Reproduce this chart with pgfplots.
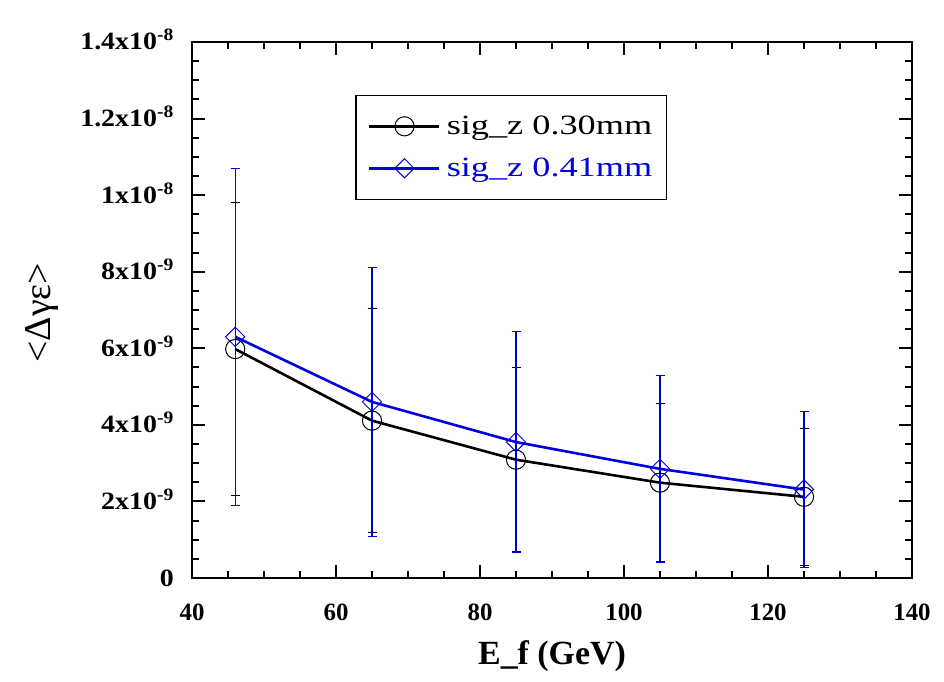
\documentclass[border=0pt]{standalone}
\usepackage{fontspec}
\setmainfont{Liberation Serif}
\newfontfamily\legfont{Liberation Serif}[FakeStretch=1.3]
\newfontfamily\ytickfont{Liberation Serif}[FakeStretch=1.12]
\usepackage{pgfplots}
\pgfplotsset{compat=1.18}
\definecolor{myblue}{RGB}{0,0,225}
\begin{document}
\begin{tikzpicture}
\useasboundingbox (0,0) rectangle (944bp,682bp);
\begin{axis}[
  at={(192bp,104bp)}, anchor=south west,
  scale only axis, width=720bp, height=536bp,
  xmin=40, xmax=140, ymin=0, ymax=1.4e-8,
  xtick={40,60,80,100,120,140},
  xticklabels={40,60,80,100,120,140},
  ytick={0,2e-9,4e-9,6e-9,8e-9,1e-8,1.2e-8,1.4e-8},
  yticklabels={0,2x10\textsuperscript{-9},4x10\textsuperscript{-9},6x10\textsuperscript{-9},8x10\textsuperscript{-9},1x10\textsuperscript{-8},1.2x10\textsuperscript{-8},1.4x10\textsuperscript{-8}},
  scaled y ticks=false,
  minor x tick num=3, minor y tick num=3,
  tick align=inside, tick pos=both,
  axis line style={line width=2.5bp},
  major tick length=13bp, minor tick length=7bp,
  tick style={line width=2bp, black},
  xticklabel style={font=\bfseries\fontsize{25}{28}\selectfont, inner sep=0pt, anchor=north, yshift=-26bp},
  yticklabel style={font=\ytickfont\bfseries\fontsize{25}{28}\selectfont, inner sep=0pt, anchor=base east, xshift=-18bp, yshift=-8bp},
  xlabel={E\_f (GeV)},
  xlabel style={font=\bfseries\fontsize{34}{38}\selectfont, at={(axis description cs:0.5,0)}, anchor=base, yshift=-86bp, inner sep=0pt},
  ylabel={<Δγε>},
  ylabel style={font=\fontsize{38}{40}\selectfont, at={(axis description cs:0,0.5)}, anchor=center, yshift=150bp, xshift=-3bp, inner sep=0pt},
  legend style={at={(0.227,0.902)}, anchor=north west, draw=black, line width=1.5bp,
    font=\legfont\fontsize{28}{30}\selectfont, inner xsep=12bp, inner ysep=19bp,
    row sep=18bp, cells={anchor=west}},
  legend image code/.code={%
    \draw[#1, mark repeat=2, mark phase=2] plot coordinates {(0bp,0bp) (35bp,0bp) (70bp,0bp)};},
]
\addplot[black, line width=2.6bp, mark=o, mark size=9.6bp, mark options={line width=1bp, solid},
  error bars/.cd, y dir=both, y explicit,
  error bar style={line width=1.3bp, black},
  error mark options={rotate=90, mark size=4.5bp, line width=1.3bp, black}]
  coordinates {
  (46,5.98e-9) +- (0,3.82e-9)
  (65,4.11e-9) +- (0,2.93e-9)
  (85,3.09e-9) +- (0,2.41e-9)
  (105,2.49e-9) +- (0,2.07e-9)
  (125,2.12e-9) +- (0,1.79e-9)
  };
\addlegendentry{\hspace{4bp}sig\_z 0.30mm}
\addplot[myblue, line width=2.6bp, mark=square, mark size=6.8bp, mark options={rotate=45, line width=1bp, solid},
  error bars/.cd, y dir=both, y explicit,
  error bar style={line width=1.3bp, myblue},
  error mark options={rotate=90, mark size=4.5bp, line width=1.3bp, myblue}]
  coordinates {
  (46,6.30e-9) +- (0,4.40e-9)
  (65,4.60e-9) +- (0,3.51e-9)
  (85,3.55e-9) +- (0,2.88e-9)
  (105,2.85e-9) +- (0,2.44e-9)
  (125,2.31e-9) +- (0,2.03e-9)
  };
\addlegendentry{\hspace{4bp}\textcolor{myblue}{sig\_z 0.41mm}}
\end{axis}
\end{tikzpicture}
\end{document}
